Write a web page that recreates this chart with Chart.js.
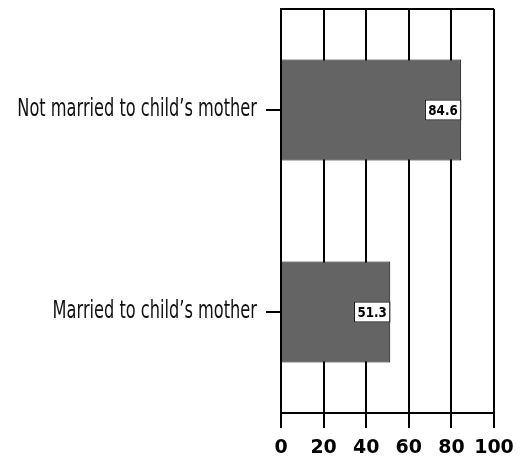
<!DOCTYPE html>
<html>
<head>
<meta charset="utf-8">
<script src="https://cdn.jsdelivr.net/npm/chart.js@4"></script>
<style>
  html, body { margin: 0; padding: 0; background: #fff; }
  #wrap { width: 520px; height: 458px; }
</style>
</head>
<body>
<div id="wrap"><canvas id="barChart" width="520" height="458"></canvas></div>
<script>
        // Chart data
        const categories = ['Not married to child\u2019s mother', 'Married to child\u2019s mother'];
        const values = [84.6, 51.3];
        const tickValues = [0, 20, 40, 60, 80, 100];

        const fontFamily = '"DejaVu Sans", Arial, sans-serif';

        // category labels drawn narrow (condensed look), value boxes, top frame line
        const extras = {
            id: 'extras',
            afterDatasetsDraw(chart) {
                const ctx = chart.ctx;
                const meta = chart.getDatasetMeta(0);
                ctx.save();
                ctx.font = 'bold 14px ' + fontFamily;
                ctx.textBaseline = 'middle';
                ctx.textAlign = 'center';
                meta.data.forEach((bar, i) => {
                    const txt = values[i].toFixed(1);
                    const tw = ctx.measureText(txt).width * 0.85;
                    const w = tw + 7;
                    const h = 21;
                    const x = bar.x - w;
                    const y = bar.y - h / 2;
                    ctx.fillStyle = '#fff';
                    ctx.fillRect(x, y, w, h);
                    ctx.strokeStyle = '#000';
                    ctx.lineWidth = 1;
                    ctx.strokeRect(x + 0.5, y + 0.5, w - 1, h - 1);
                    ctx.fillStyle = '#000';
                    ctx.save();
                    ctx.translate(x + w / 2, bar.y + 1);
                    ctx.scale(0.85, 1);
                    ctx.fillText(txt, 0, 0);
                    ctx.restore();
                });
                const area = chart.chartArea;
                ctx.strokeStyle = '#000';
                ctx.lineWidth = 2;
                ctx.beginPath();
                ctx.moveTo(area.left, area.top);
                ctx.lineTo(area.right, area.top);
                ctx.stroke();

                // y category labels
                const yScale = chart.scales.y;
                ctx.font = '24px ' + fontFamily;
                ctx.textAlign = 'right';
                ctx.textBaseline = 'middle';
                ctx.fillStyle = '#111';
                categories.forEach((lab, i) => {
                    const py = yScale.getPixelForTick(i);
                    ctx.save();
                    ctx.translate(area.left - 24, py);
                    ctx.scale(0.675, 1);
                    ctx.fillText(lab, 0, 0);
                    ctx.restore();
                });
                ctx.restore();
            }
        };

        const ctx = document.getElementById('barChart').getContext('2d');
        new Chart(ctx, {
            type: 'bar',
            data: {
                labels: categories,
                datasets: [{
                    data: values,
                    backgroundColor: '#646464',
                    borderColor: '#000',
                    borderWidth: 1,
                    barPercentage: 0.5,
                    categoryPercentage: 1
                }]
            },
            options: {
                indexAxis: 'y',
                responsive: false,
                animation: false,
                layout: { padding: { top: 9, right: 26, left: 0, bottom: 0 } },
                plugins: {
                    legend: { display: false },
                    tooltip: { enabled: false }
                },
                scales: {
                    x: {
                        min: 0,
                        max: 100,
                        afterBuildTicks(scale) {
                            scale.ticks = tickValues.map(v => ({ value: v }));
                        },
                        afterFit(scale) {
                            scale.height = 45;
                            scale.paddingLeft = 0;
                            scale.paddingRight = 0;
                        },
                        grid: { color: '#000', lineWidth: 2, tickLength: 15 },
                        border: { color: '#000', width: 2 },
                        ticks: {
                            color: '#000',
                            padding: 9,
                            maxRotation: 0,
                            autoSkip: false,
                            font: { family: fontFamily, size: 19, weight: 'bold' }
                        }
                    },
                    y: {
                        afterFit(scale) { scale.width = 281; },
                        grid: { color: '#000', lineWidth: 2, tickLength: 15, drawOnChartArea: false, offset: false },
                        border: { color: '#000', width: 2 },
                        ticks: { display: false }
                    }
                }
            },
            plugins: [extras]
        });
</script>
</body>
</html>
